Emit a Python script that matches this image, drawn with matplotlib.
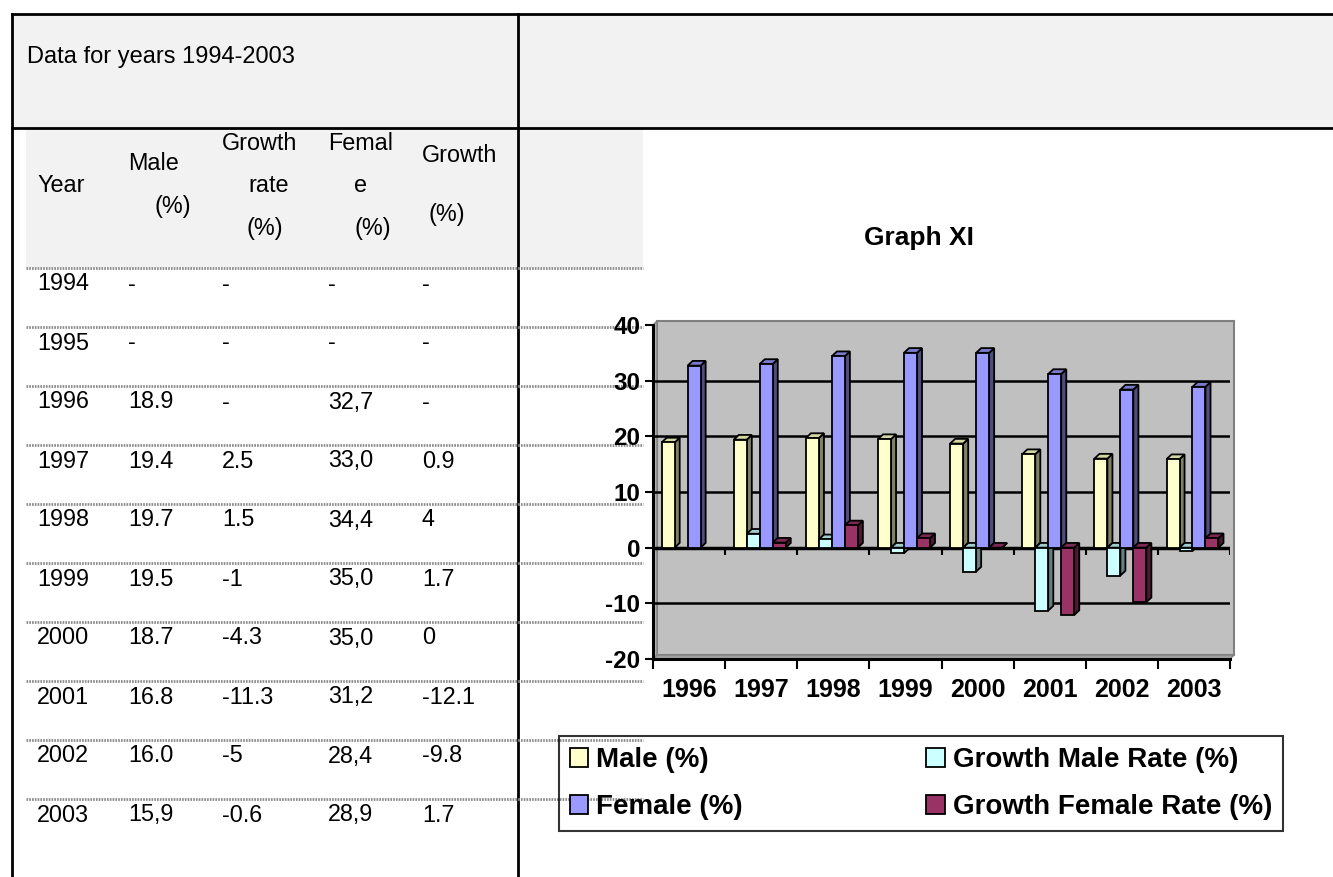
import numpy as np
import matplotlib.pyplot as plt
from matplotlib.patches import Polygon, Rectangle

plt.rcParams['font.family'] = ['Liberation Sans', 'DejaVu Sans']

# chart data (Graph XI)
years = ['1996', '1997', '1998', '1999', '2000', '2001', '2002', '2003']
male = [18.9, 19.4, 19.7, 19.5, 18.7, 16.8, 16.0, 15.9]
growth_male = [np.nan, 2.5, 1.5, -1, -4.3, -11.3, -5, -0.6]
female = [32.7, 33.0, 34.4, 35.0, 35.0, 31.2, 28.4, 28.9]
growth_female = [np.nan, 0.9, 4, 1.7, 0, -12.1, -9.8, 1.7]
series_names = ['Male (%)', 'Growth Male Rate (%)', 'Female (%)', 'Growth Female Rate (%)']

# table text (as printed)
table_years = ['1994', '1995', '1996', '1997', '1998', '1999', '2000', '2001', '2002', '2003']
table_male = ['-', '-', '18.9', '19.4', '19.7', '19.5', '18.7', '16.8', '16.0', '15,9']
table_gm = ['-', '-', '-', '2.5', '1.5', '-1', '-4.3', '-11.3', '-5', '-0.6']
table_female = ['-', '-', '32,7', '33,0', '34,4', '35,0', '35,0', '31,2', '28,4', '28,9']
table_gf = ['-', '-', '-', '0.9', '4', '1.7', '0', '-12.1', '-9.8', '1.7']

W, H = 1333, 877
fig = plt.figure(figsize=(W / 100, H / 100), dpi=100)

# page layer in pixel coordinates
ax0 = fig.add_axes([0, 0, 1, 1])
ax0.set_xlim(0, W)
ax0.set_ylim(H, 0)
ax0.axis('off')

ax0.add_patch(Rectangle((12, 14), W - 12, 114, fc='#f2f2f2', ec='none'))
ax0.add_patch(Rectangle((26, 128), 617, 140, fc='#f2f2f2', ec='none'))
ax0.plot([12, W], [14, 14], color='black', lw=2)
ax0.plot([12, W], [128, 128], color='black', lw=2)
ax0.plot([12, 12], [14, H], color='black', lw=2)
ax0.plot([518, 518], [14, H], color='black', lw=2)

ax0.text(27, 57, 'Data for years 1994-2003', fontsize=17, va='center')

hdr = [('Year', 37, 185), ('Male', 128, 163), ('(%)', 155, 207),
       ('Growth', 222, 143), ('rate', 248, 185), ('(%)', 247, 228),
       ('Femal', 328, 143), ('e', 354, 185), ('(%)', 355, 228),
       ('Growth', 422, 155), ('(%)', 428, 215)]
for t, hx, hy in hdr:
    ax0.text(hx, hy, t, fontsize=16.8, va='center')

col_x = [37, 128, 222, 328, 422]
for k in range(len(table_years)):
    ytop = 268 + 59 * k
    ax0.plot([26, 643], [ytop, ytop], color='#8c8c8c', lw=2, ls=(0, (0.6, 0.4)))
    row = [table_years[k], table_male[k], table_gm[k], table_female[k], table_gf[k]]
    for cx, t in zip(col_x, row):
        ax0.text(cx, ytop + 16, t, fontsize=16.8, va='center')

# chart
ax = fig.add_axes([653 / W, 1 - 659 / H, (1230 - 653) / W, (659 - 325) / H])
ax.patch.set_visible(False)
ax.set_axisbelow(True)

# back wall, side wall and floor (pseudo 3D)
ox, oy = 4 / 577, 4 / 334
ax.add_patch(Rectangle((ox, oy), 1, 1, transform=ax.transAxes, clip_on=False,
                       fc='#c0c0c0', ec='#808080', lw=1.5, zorder=0))
ax.add_patch(Polygon([(0, 0), (ox, oy), (ox, 1 + oy), (0, 1)], closed=True,
                     transform=ax.transAxes, clip_on=False,
                     fc='#b4b4b4', ec='#808080', lw=1, zorder=0.1))
ax.add_patch(Polygon([(0, 0), (1, 0), (1 + ox, oy), (ox, oy)], closed=True,
                     transform=ax.transAxes, clip_on=False,
                     fc='#a0a0a0', ec='#808080', lw=1, zorder=0.1))

x = np.arange(len(years))
bw = 0.18
dx, dy = 0.07, 0.85
faces = [('#ffffcc', '#d6d6a3', '#808066'),
         ('#ccffff', '#a3cccc', '#668080'),
         ('#9999ff', '#7a7acc', '#4d4d80'),
         ('#993366', '#7a2952', '#4d1a33')]
handles = []
for i, (vals, name, (front, top, side)) in enumerate(
        zip([male, growth_male, female, growth_female], series_names, faces)):
    pos = x + (i - 1.5) * bw - 0.02
    zo = 3 + i
    for p, v in zip(pos, vals):
        if np.isnan(v):
            continue
        x0, x1 = p - bw / 2, p + bw / 2
        hi, lo = max(v, 0), min(v, 0)
        ax.add_patch(Polygon([(x1, lo), (x1 + dx, lo + dy), (x1 + dx, hi + dy), (x1, hi)],
                             fc=side, ec='black', lw=1.3, zorder=zo))
        ax.add_patch(Polygon([(x0, hi), (x0 + dx, hi + dy), (x1 + dx, hi + dy), (x1, hi)],
                             fc=top, ec='black', lw=1.3, zorder=zo))
    b = ax.bar(pos, vals, bw, color=front, edgecolor='black', lw=1.3, zorder=zo, label=name)
    handles.append(b)

ax.set_xlim(-0.5, len(years) - 0.5)
ax.set_ylim(-20, 40)
ax.set_yticks(range(-20, 41, 10))
ax.set_yticklabels([str(v) for v in range(-20, 41, 10)], fontsize=17.5, fontweight='bold')
ax.yaxis.grid(True, color='black', lw=1.8)
gls = ax.get_ygridlines()
gls[0].set_visible(False)
gls[-1].set_visible(False)
gls[2].set_linewidth(2.5)
ax.vlines(np.arange(len(years) + 1) - 0.5, -1.4, 0, color='black', lw=1.5, zorder=2)

ax.set_xticks(x)
ax.set_xticklabels(years, fontsize=18, fontweight='bold')
ax.set_xticks(np.arange(len(years) + 1) - 0.5, minor=True)
ax.tick_params(axis='x', which='major', length=0, pad=14)
ax.tick_params(axis='x', which='minor', length=7, width=1.5, direction='out')
ax.tick_params(axis='y', length=6, width=1.5, pad=3)
for s in ['left', 'bottom']:
    ax.spines[s].set_color('black')
    ax.spines[s].set_linewidth(2.2)
    ax.spines[s].set_zorder(2.5)
for s in ['top', 'right']:
    ax.spines[s].set_visible(False)

fig.text(919 / W, 1 - 238 / H, 'Graph XI', ha='center', va='center',
         fontsize=19, fontweight='bold')

leg = fig.legend([handles[0], handles[2], handles[1], handles[3]],
                 [series_names[0], series_names[2], series_names[1], series_names[3]],
                 ncol=2, loc='upper left', bbox_to_anchor=(559 / W, 1 - 736 / H),
                 borderaxespad=0, prop={'size': 20, 'weight': 'bold'},
                 handlelength=0.65, handleheight=0.7, handletextpad=0.3,
                 columnspacing=6.6, labelspacing=0.75, borderpad=0.4,
                 fancybox=False, edgecolor='black')
leg.get_frame().set_facecolor('none')
leg.get_frame().set_linewidth(1.5)

fig.savefig('out.png', dpi=100)
